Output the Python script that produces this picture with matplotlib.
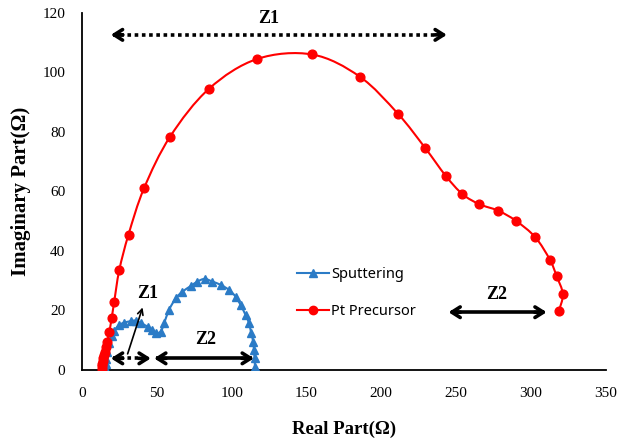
import numpy as np
import matplotlib
matplotlib.use("Agg")
import matplotlib.pyplot as plt
from matplotlib.path import Path
from matplotlib.patches import PathPatch

# ---- data ----
sput_x = [15.5, 15.8, 16.3, 17.0, 18.2, 19.8, 21.5, 24.9, 28.2, 32.7, 36.0, 39.3, 43.8, 47.1,
          49.3, 52.7, 54.9, 58.2, 62.7, 67.1, 72.7, 77.1, 82.0, 87.1, 92.7, 98.2, 102.7,
          106.0, 109.3, 111.6, 113.1, 114.4, 114.9, 115.3, 115.6]
sput_y = [0.5, 2.0, 3.8, 6.0, 9.0, 11.5, 13.2, 15.1, 15.9, 16.4, 16.6, 15.7, 14.6, 13.4,
          12.4, 12.9, 15.7, 20.2, 24.1, 26.3, 28.2, 29.7, 30.6, 29.7, 28.6, 26.9, 24.6,
          21.8, 18.5, 15.7, 12.3, 9.5, 6.7, 3.9, 1.0]

pt_x = [13.2, 13.4, 13.6, 13.9, 14.2, 14.6, 15.1, 15.8, 16.8, 18.2, 19.8, 21.5, 24.9, 31.1,
        41.5, 58.9, 84.9, 117.1, 153.8, 185.5, 211.1, 229.3, 243.1, 254.2, 265.5, 278.2,
        290.0, 302.9, 312.7, 317.1, 321.3, 318.7]
pt_y = [0.3, 1.2, 2.1, 3.0, 4.0, 5.0, 6.2, 7.6, 9.5, 12.6, 17.3, 22.8, 33.5, 45.5,
        61.1, 78.4, 94.5, 104.5, 106.0, 98.6, 86.1, 74.6, 65.2, 59.1, 55.7, 53.5,
        50.1, 44.6, 37.0, 31.6, 25.5, 19.9]

x_ticks = [0, 50, 100, 150, 200, 250, 300, 350]
y_ticks = [0, 20, 40, 60, 80, 100, 120]

BLUE = '#2B7BC6'
RED = '#FF0000'
SERIF = ['Liberation Serif', 'DejaVu Serif']

fig = plt.figure(figsize=(6.33, 4.42), dpi=100)
ax = fig.add_axes([0.1295, 0.163, 0.8275, 0.808])


def smooth_path(xs, ys, ax, color, lw):
    xs = np.asarray(xs, float)
    ys = np.asarray(ys, float)
    sx, sy = 1.5, 2.975
    px, py = xs * sx, ys * sy
    n = len(xs)
    verts = [(xs[0], ys[0])]
    codes = [Path.MOVETO]
    for i in range(n - 1):
        i0 = max(i - 1, 0)
        i3 = min(i + 2, n - 1)
        c1 = (px[i] + (px[i + 1] - px[i0]) / 6.0, py[i] + (py[i + 1] - py[i0]) / 6.0)
        c2 = (px[i + 1] - (px[i3] - px[i]) / 6.0, py[i + 1] - (py[i3] - py[i]) / 6.0)
        verts += [(c1[0] / sx, c1[1] / sy), (c2[0] / sx, c2[1] / sy), (xs[i + 1], ys[i + 1])]
        codes += [Path.CURVE4, Path.CURVE4, Path.CURVE4]
    patch = PathPatch(Path(verts, codes), facecolor='none', edgecolor=color, lw=lw,
                      transform=ax.transData, zorder=2)
    ax.add_patch(patch)


smooth_path(sput_x, sput_y, ax, BLUE, 1.5)
smooth_path(pt_x, pt_y, ax, RED, 1.5)
ax.plot(sput_x, sput_y, linestyle='none', marker='^', ms=5.5, color=BLUE, zorder=3)
ax.plot(pt_x, pt_y, linestyle='none', marker='o', ms=6.3, color=RED, zorder=3)

# legend proxies
ax.plot([], [], color=BLUE, marker='^', ms=6, lw=1.5, label='Sputtering')
ax.plot([], [], color=RED, marker='o', ms=6, lw=1.5, label='Pt Precursor')
leg = ax.legend(loc='upper left', bbox_to_anchor=(0.40, 0.305), frameon=False,
                prop={'family': ['Noto Sans', 'DejaVu Sans'], 'size': 10.5},
                handlelength=2.2, handletextpad=0.1, labelspacing=1.5, borderaxespad=0)

ax.set_xlim(0, 350)
ax.set_ylim(0, 120)
ax.set_xticks(x_ticks)
ax.set_yticks(y_ticks)
ax.tick_params(length=0, labelsize=11)
ax.tick_params(axis='x', pad=12)
ax.tick_params(axis='y', pad=12)
for lab in ax.get_xticklabels() + ax.get_yticklabels():
    lab.set_family(SERIF)
for s in ['top', 'right']:
    ax.spines[s].set_visible(False)
for s in ['left', 'bottom']:
    ax.spines[s].set_linewidth(1.3)
    ax.spines[s].set_color('black')

ax.set_xlabel('Real Part(Ω)', family=SERIF, fontsize=13.5, fontweight='bold', labelpad=15)
ax.set_ylabel('Imaginary Part(Ω)', family=SERIF, fontsize=15, fontweight='bold', labelpad=8)


def dbl_arrow(x0, x1, y, dotted=False, lw=2.6):
    if dotted:
        ax.plot([x0 + 1.5, x1 - 1.5], [y, y], color='black', lw=lw,
                linestyle=(0, (1.0, 1.0)), solid_capstyle='butt', zorder=4)
    else:
        ax.plot([x0 + 1.5, x1 - 1.5], [y, y], color='black', lw=lw, zorder=4,
                solid_capstyle='butt')
    for tip, tail in [(x0, x0 + 8), (x1, x1 - 8)]:
        ax.annotate('', xy=(tip, y), xytext=(tail, y),
                    arrowprops=dict(arrowstyle='->,head_length=0.6,head_width=0.38',
                                    lw=lw, color='black', shrinkA=0, shrinkB=0),
                    zorder=5)


dbl_arrow(19.3, 243.8, 112.6, dotted=True)
dbl_arrow(244.9, 310.5, 19.4)
dbl_arrow(19.3, 46.0, 3.9, dotted=True)
dbl_arrow(48.2, 114.9, 3.9)

tfont = dict(family=SERIF, fontsize=13, fontweight='bold', ha='center', va='center')
ax.text(124.5, 118.2, 'Z1', **tfont)
ax.text(277.0, 25.5, 'Z2', **tfont)
ax.text(44.0, 25.8, 'Z1', **tfont)
ax.text(82.7, 10.3, 'Z2', **tfont)
ax.annotate('', xy=(40.5, 21.0), xytext=(30.5, 5.4),
            arrowprops=dict(arrowstyle='->,head_length=0.4,head_width=0.2', lw=1.2,
                            color='black', shrinkA=0, shrinkB=0))

fig.savefig('out.png', dpi=100)
